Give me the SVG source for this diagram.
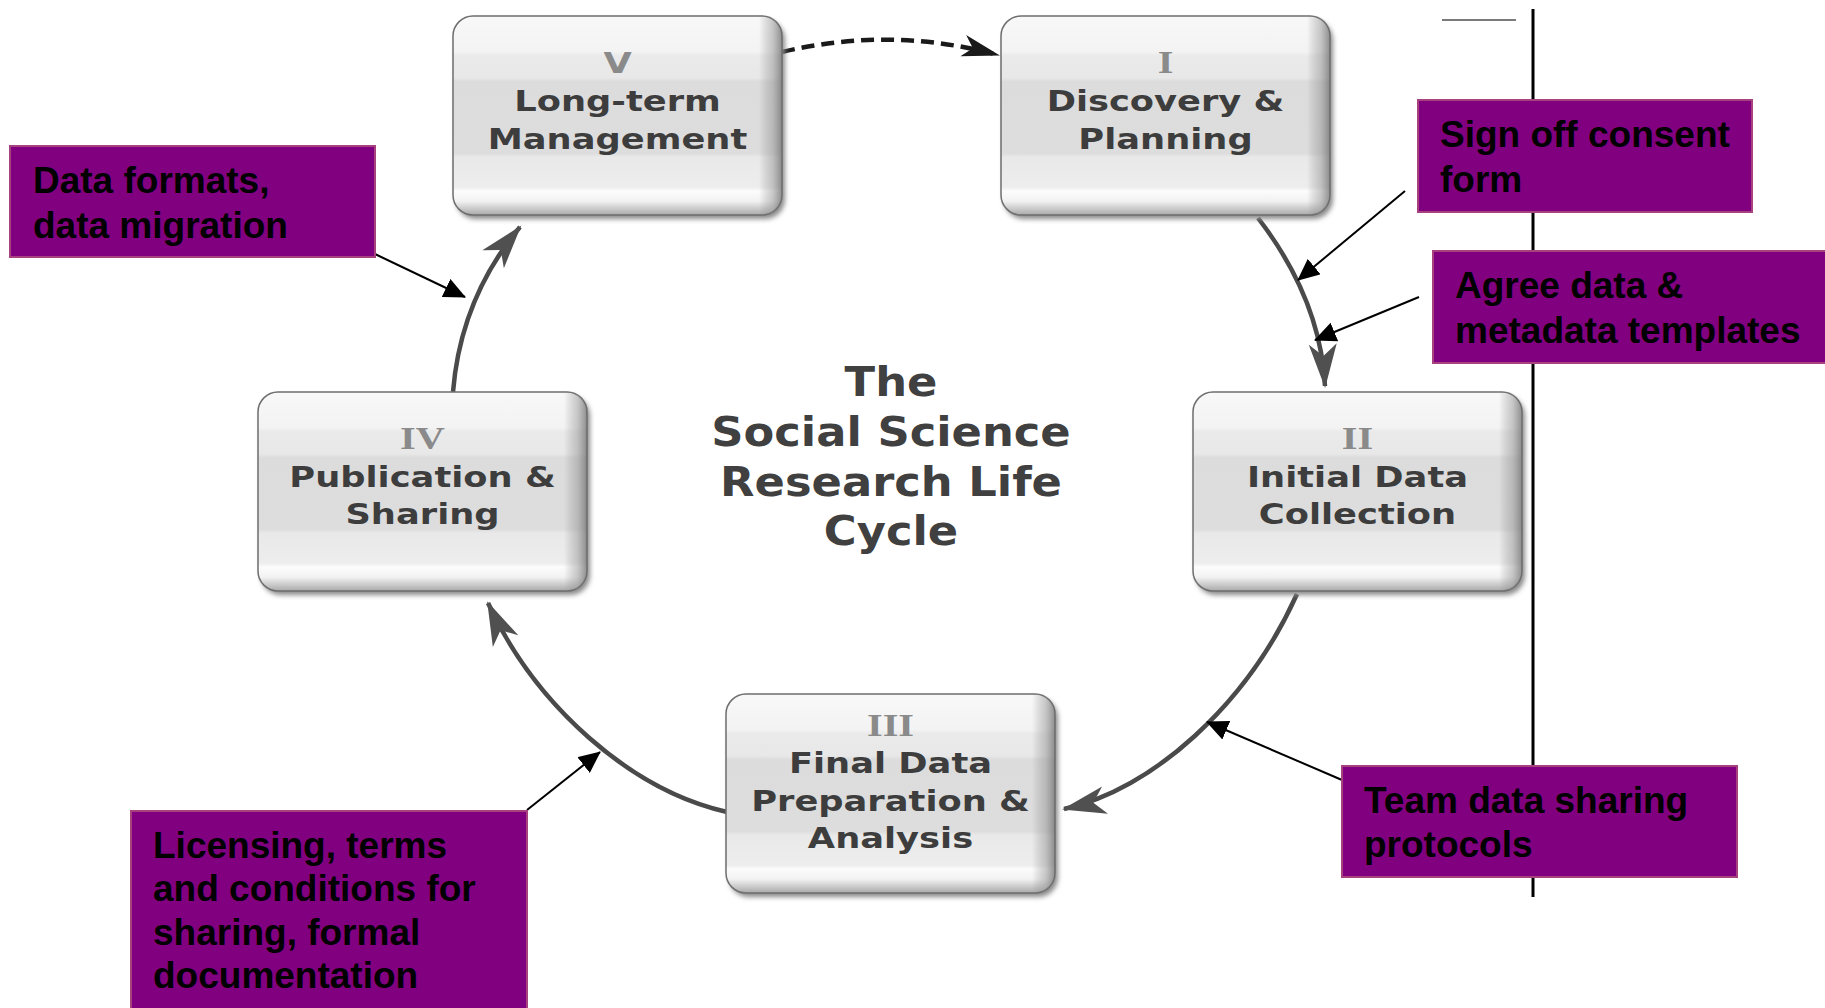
<svg xmlns="http://www.w3.org/2000/svg" width="1825" height="1008" viewBox="0 0 1825 1008">
<style>
.box{fill:url(#boxGrad);stroke:#6e6e6e;stroke-width:1.5}
.edge{fill:url(#edgeGrad)}
.shadow{fill:#8a8a8a;filter:url(#blur)}
.num{font-family:"Liberation Serif",serif;font-weight:bold;font-size:32px;fill:#8a8a8a;text-anchor:middle}
.numsans{font-family:"DejaVu Sans",sans-serif;font-weight:bold;font-size:29px;fill:#8a8a8a;text-anchor:middle}
.lbl{font-family:"DejaVu Sans",sans-serif;font-weight:bold;font-size:28px;fill:#3d3d3d;text-anchor:middle}
.title{font-family:"DejaVu Sans",sans-serif;font-weight:bold;font-size:40px;fill:#404040;text-anchor:middle}
.call{fill:#800080;stroke:#a8427e;stroke-width:2}
.ctext{font-family:"Liberation Sans",Arial,sans-serif;font-weight:bold;font-size:37px;fill:#000}
.arc{fill:none;stroke:#4a4a4a;stroke-width:4.5;marker-end:url(#chev)}
.dash{fill:none;stroke:#1a1a1a;stroke-width:4.5;stroke-dasharray:13 7;marker-end:url(#stealth)}
.pointer{fill:none;stroke:#000;stroke-width:2;marker-end:url(#tri)}
</style>
<defs>
<linearGradient id="boxGrad" x1="0" y1="0" x2="0" y2="1">
<stop offset="0" stop-color="#f8f8f8"/>
<stop offset="0.18" stop-color="#f3f3f3"/>
<stop offset="0.2" stop-color="#eaeaea"/>
<stop offset="0.31" stop-color="#e8e8e8"/>
<stop offset="0.33" stop-color="#dcdcdc"/>
<stop offset="0.69" stop-color="#dddddd"/>
<stop offset="0.71" stop-color="#e9e9e9"/>
<stop offset="0.86" stop-color="#ededed"/>
<stop offset="0.88" stop-color="#fcfcfc"/>
<stop offset="0.93" stop-color="#f2f2f2"/>
<stop offset="1" stop-color="#a9a9a9"/>
</linearGradient>
<linearGradient id="edgeGrad" x1="0" y1="0" x2="1" y2="0">
<stop offset="0" stop-color="#808080" stop-opacity="0"/>
<stop offset="0.93" stop-color="#808080" stop-opacity="0"/>
<stop offset="0.97" stop-color="#909090" stop-opacity="0.45"/>
<stop offset="1" stop-color="#6a6a6a" stop-opacity="0.75"/>
</linearGradient>
<filter id="blur" x="-10%" y="-10%" width="120%" height="120%"><feGaussianBlur stdDeviation="2.5"/></filter>
<marker id="chev" viewBox="-44 -15 48 30" refX="0" refY="0" markerWidth="48" markerHeight="30" markerUnits="userSpaceOnUse" orient="auto">
<path d="M2,0 L-42,-14 L-30,0 L-42,14 Z" fill="#505050"/>
</marker>
<marker id="stealth" viewBox="-40 -12 44 24" refX="0" refY="0" markerWidth="44" markerHeight="24" markerUnits="userSpaceOnUse" orient="auto">
<path d="M2,0 L-36,-11 L-26,0 L-36,11 Z" fill="#1a1a1a"/>
</marker>
<marker id="tri" viewBox="0 0 22 20" refX="21" refY="10" markerWidth="22" markerHeight="20" markerUnits="userSpaceOnUse" orient="auto">
<path d="M0,0 L22,10 L0,20 Z" fill="#000"/>
</marker>
</defs>
<rect width="1825" height="1008" fill="#ffffff"/>

<!-- divider line -->
<line x1="1533" y1="9" x2="1533" y2="897" stroke="#000" stroke-width="3"/>
<line x1="1442" y1="20" x2="1516" y2="20" stroke="#7a7a7a" stroke-width="2"/>

<g id="title">
<g transform="translate(891,0) scale(1.12,1)">
<text class="title" x="0" y="396">The</text>
<text class="title" x="0" y="446">Social Science</text>
<text class="title" x="0" y="496">Research Life</text>
<text class="title" x="0" y="545">Cycle</text>
</g>
</g>

<g id="connectors">
<path class="dash" d="M782,52 Q891,26 998,55"/>
<path class="arc" d="M1258,218 C1302,275 1322,330 1325,386"/>
<path class="arc" d="M1297,594 C1247,705 1152,790 1064,809"/>
<path class="arc" d="M727,812 C630,790 535,705 488,603"/>
<path class="arc" d="M453,392 C458,330 480,275 520,227"/>
<path class="pointer" d="M375,254 L465,297"/>
<path class="pointer" d="M1405,191 L1298,280"/>
<path class="pointer" d="M1419,297 L1315,340"/>
<path class="pointer" d="M1342,780 L1207,722"/>
<path class="pointer" d="M527,810 L600,752"/>
</g>

<g id="node-V">
<rect class="shadow" x="456" y="20" width="329" height="199" rx="20"/>
<rect class="box" x="453" y="16" width="329" height="199" rx="20"/>
<rect class="edge" x="453" y="16" width="329" height="199" rx="20"/>
<g transform="translate(617.5,0) scale(1.26,1)">
<text class="numsans" x="0" y="73">V</text>
<text class="lbl" x="0" y="111">Long-term</text>
<text class="lbl" x="0" y="149.5">Management</text>
</g>
</g>

<g id="node-I">
<rect class="shadow" x="1004" y="20" width="329" height="199" rx="20"/>
<rect class="box" x="1001" y="16" width="329" height="199" rx="20"/>
<rect class="edge" x="1001" y="16" width="329" height="199" rx="20"/>
<g transform="translate(1165.5,0) scale(1.26,1)">
<text class="num" x="0" y="73">I</text>
<text class="lbl" x="0" y="111">Discovery &amp;</text>
<text class="lbl" x="0" y="149.5">Planning</text>
</g>
</g>

<g id="node-IV">
<rect class="shadow" x="261" y="396" width="329" height="199" rx="20"/>
<rect class="box" x="258" y="392" width="329" height="199" rx="20"/>
<rect class="edge" x="258" y="392" width="329" height="199" rx="20"/>
<g transform="translate(422.5,0) scale(1.26,1)">
<text class="num" x="0" y="449">IV</text>
<text class="lbl" x="0" y="487">Publication &amp;</text>
<text class="lbl" x="0" y="524.5">Sharing</text>
</g>
</g>

<g id="node-II">
<rect class="shadow" x="1196" y="396" width="329" height="199" rx="20"/>
<rect class="box" x="1193" y="392" width="329" height="199" rx="20"/>
<rect class="edge" x="1193" y="392" width="329" height="199" rx="20"/>
<g transform="translate(1357.5,0) scale(1.26,1)">
<text class="num" x="0" y="449">II</text>
<text class="lbl" x="0" y="487">Initial Data</text>
<text class="lbl" x="0" y="524.5">Collection</text>
</g>
</g>

<g id="node-III">
<rect class="shadow" x="729" y="698" width="329" height="199" rx="20"/>
<rect class="box" x="726" y="694" width="329" height="199" rx="20"/>
<rect class="edge" x="726" y="694" width="329" height="199" rx="20"/>
<g transform="translate(890.5,0) scale(1.26,1)">
<text class="num" x="0" y="736">III</text>
<text class="lbl" x="0" y="773">Final Data</text>
<text class="lbl" x="0" y="811">Preparation &amp;</text>
<text class="lbl" x="0" y="848">Analysis</text>
</g>
</g>

<g id="note-formats">
<rect class="call" x="10" y="146" width="365" height="111"/>
<text class="ctext" x="33" y="193">Data formats,</text>
<text class="ctext" x="33" y="238">data migration</text>
</g>

<g id="note-consent">
<rect class="call" x="1418" y="100" width="334" height="112"/>
<text class="ctext" x="1440" y="147">Sign off consent</text>
<text class="ctext" x="1440" y="192">form</text>
</g>

<g id="note-templates">
<rect class="call" x="1433" y="251" width="400" height="112"/>
<text class="ctext" x="1455" y="298">Agree data &amp;</text>
<text class="ctext" x="1455" y="343">metadata templates</text>
</g>

<g id="note-team">
<rect class="call" x="1342" y="766" width="395" height="111"/>
<text class="ctext" x="1364" y="813">Team data sharing</text>
<text class="ctext" x="1364" y="857">protocols</text>
</g>

<g id="note-licensing">
<rect class="call" x="131" y="811" width="396" height="205"/>
<text class="ctext" x="153" y="858">Licensing, terms</text>
<text class="ctext" x="153" y="901">and conditions for</text>
<text class="ctext" x="153" y="945">sharing, formal</text>
<text class="ctext" x="153" y="988">documentation</text>
</g>
</svg>
